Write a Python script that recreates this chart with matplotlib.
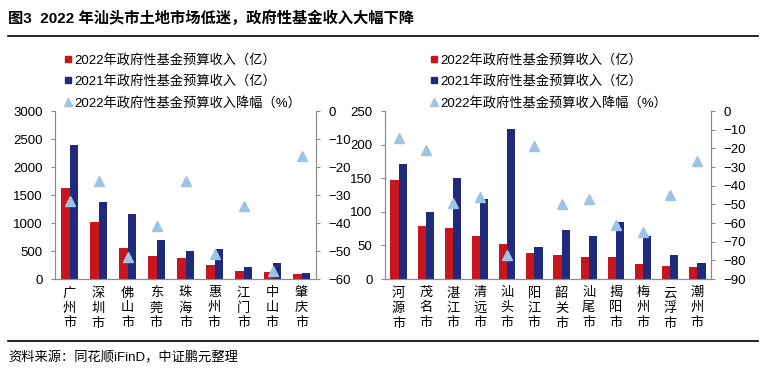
import matplotlib
matplotlib.use('Agg')
import matplotlib.pyplot as plt
from matplotlib.lines import Line2D
import numpy as np

plt.rcParams['font.family'] = ['Liberation Sans', 'Noto Sans CJK SC', 'DejaVu Sans']

# 珠三角城市
cities_a = ['广州市', '深圳市', '佛山市', '东莞市', '珠海市', '惠州市', '江门市', '中山市', '肇庆市']
rev22_a = [1630, 1024, 560, 417, 381, 256, 149, 131, 95]
rev21_a = [2399, 1381, 1167, 702, 506, 542, 220, 292, 113]
drop_a = [-32, -25, -52, -41, -25, -51, -34, -57, -16]

# 粤东西北城市
cities_b = ['河源市', '茂名市', '湛江市', '清远市', '汕头市', '阳江市', '韶关市', '汕尾市', '揭阳市', '梅州市', '云浮市', '潮州市']
rev22_b = [147.8, 79.4, 76.4, 64.5, 52.6, 39.2, 36.2, 33.2, 33.2, 22.8, 19.8, 18.4]
rev21_b = [171.6, 100.2, 150.8, 119.5, 223.7, 48.1, 73.4, 64.5, 85.3, 64.5, 36.2, 24.3]
drop_b = [-14.5, -21, -49.5, -46, -77, -19, -50, -47, -61, -65, -45, -27]

RED = '#C8161E'
NAVY = '#1F2A7D'
TRI = '#9DC3E6'
GRAY = '#8C8C8C'

W, H = 767, 374
fig = plt.figure(figsize=(W / 100, H / 100), dpi=100)


def px_axes(x0, y0, x1, y1):
    return fig.add_axes([x0 / W, 1 - y1 / H, (x1 - x0) / W, (y1 - y0) / H])


def panel(ax, cities, r22, r21, drop, ymax, ystep, dmin, dstep, bw):
    n = len(cities)
    x = np.arange(n)
    ax.bar(x - bw / 2, r22, width=bw, color=RED, zorder=2)
    ax.bar(x + bw / 2, r21, width=bw, color=NAVY, zorder=2)
    ax.set_xlim(-0.5, n - 0.5)
    ax.set_ylim(0, ymax)
    ax.set_yticks(np.arange(0, ymax + 1, ystep))
    ax.set_xticks(x)
    ax.set_xticklabels(['\n'.join(c) for c in cities], fontsize=9.5, linespacing=1.3)
    ax.tick_params(axis='x', length=0, pad=6)
    ax.tick_params(axis='y', length=3, direction='out', labelsize=9.5, color=GRAY, pad=6)
    ax.spines['top'].set_visible(False)
    for s in ['left', 'bottom', 'right']:
        ax.spines[s].set_color(GRAY)
    ax2 = ax.twinx()
    ax2.plot(x, drop, linestyle='none', marker='^', markersize=7, color=TRI, zorder=3)
    ax2.set_ylim(dmin, 0)
    ax2.set_yticks(np.arange(dmin, 1, dstep))
    ax2.tick_params(axis='y', length=3, direction='out', labelsize=9.5, color=GRAY, pad=6)
    ax2.spines['top'].set_visible(False)
    for s in ['left', 'bottom', 'right']:
        ax2.spines[s].set_color(GRAY)
    handles = [
        Line2D([], [], linestyle='none', marker='s', markersize=5, color=RED),
        Line2D([], [], linestyle='none', marker='s', markersize=5, color=NAVY),
        Line2D([], [], linestyle='none', marker='^', markersize=6, color=TRI),
    ]
    labels = ['2022年政府性基金预算收入（亿）', '2021年政府性基金预算收入（亿）',
              '2022年政府性基金预算收入降幅（%）']
    return ax2, handles, labels


axA = px_axes(55, 111, 316, 279)
a2, h, l = panel(axA, cities_a, rev22_a, rev21_a, drop_a, 3000, 500, -60, 10, 0.28)
fig.legend(h, l, loc='upper left', bbox_to_anchor=(64 / W, 1 - 54 / H), frameon=False,
           fontsize=9.5, handlelength=0.6, handletextpad=0.2, labelspacing=0.62,
           borderaxespad=0, borderpad=0)

axB = px_axes(385, 111, 711, 279)
b2, h, l = panel(axB, cities_b, rev22_b, rev21_b, drop_b, 250, 50, -90, 10, 0.3)
fig.legend(h, l, loc='upper left', bbox_to_anchor=(430 / W, 1 - 54 / H), frameon=False,
           fontsize=9.5, handlelength=0.6, handletextpad=0.2, labelspacing=0.62,
           borderaxespad=0, borderpad=0)

fig.text(8 / W, 1 - 18 / H, '图3  2022 年汕头市土地市场低迷，政府性基金收入大幅下降',
         fontsize=11, fontweight='bold', va='center', ha='left')
fig.add_artist(Line2D([8 / W, 758 / W], [1 - 36 / H, 1 - 36 / H], color='black', lw=1.2))
fig.add_artist(Line2D([8 / W, 758 / W], [1 - 341 / H, 1 - 341 / H], color='black', lw=1.2))
fig.text(8 / W, 1 - 358 / H, '资料来源：同花顺iFinD，中证鹏元整理', fontsize=9.5, va='center', ha='left')

fig.savefig('out.png', dpi=100)
